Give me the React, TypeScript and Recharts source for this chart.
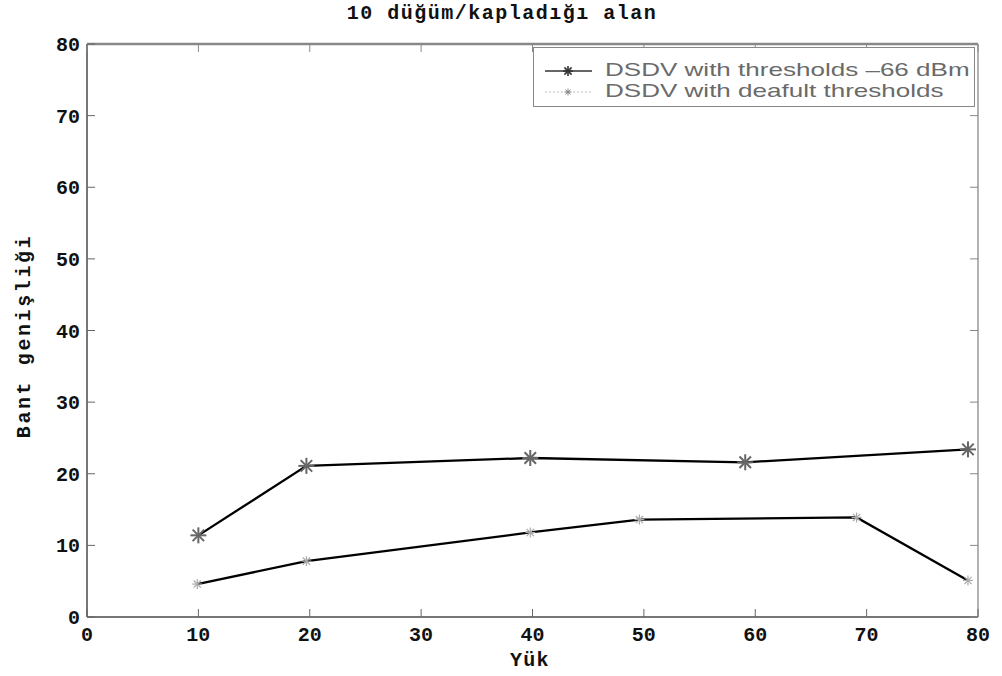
import React from 'react';
import { LineChart, Line, XAxis, YAxis, ReferenceLine } from 'recharts';

const xTicks = [0, 10, 20, 30, 40, 50, 60, 70, 80];
const yTicks = [0, 10, 20, 30, 40, 50, 60, 70, 80];

const thresholdX = [10, 19.7, 39.8, 59.1, 79.1];
const thresholdY = [11.4, 21.1, 22.2, 21.6, 23.4];
const defaultX = [9.9, 19.7, 39.8, 49.6, 69.1, 79.1];
const defaultY = [4.6, 7.8, 11.8, 13.6, 13.9, 5.1];

const seriesNames = ['DSDV with thresholds \u201366 dBm', 'DSDV with deafult thresholds'];

const thresholdData = thresholdX.map((x, i) => ({ x, y: thresholdY[i] }));
const defaultData = defaultX.map((x, i) => ({ x, y: defaultY[i] }));

const mono = '"Liberation Mono", "DejaVu Sans Mono", monospace';

const Star = ({ cx, cy, r, color, w }: any) => {
  if (cx == null || cy == null) return null;
  const d = r * 0.72;
  return (
    <g stroke={color} strokeWidth={w} fill="none">
      <line x1={cx - r} y1={cy} x2={cx + r} y2={cy} />
      <line x1={cx} y1={cy - r} x2={cx} y2={cy + r} />
      <line x1={cx - d} y1={cy - d} x2={cx + d} y2={cy + d} />
      <line x1={cx - d} y1={cy + d} x2={cx + d} y2={cy - d} />
    </g>
  );
};

const XTick = ({ x, y, payload }: any) => (
  <g>
    <line x1={x} y1={y} x2={x} y2={y - 8} stroke="#666" strokeWidth={1} />
    <line x1={x} y1={44} x2={x} y2={52} stroke="#888" strokeWidth={1} />
    <text x={x} y={y + 24} textAnchor="middle" fontFamily={mono} fontWeight="bold" fontSize={20} fill="#111">
      {payload.value}
    </text>
  </g>
);

const YTick = ({ x, y, payload }: any) => (
  <g>
    <line x1={x} y1={y} x2={x + 8} y2={y} stroke="#666" strokeWidth={1} />
    <line x1={970} y1={y} x2={978} y2={y} stroke="#888" strokeWidth={1} />
    <text x={x - 7} y={y + 7} textAnchor="end" fontFamily={mono} fontWeight="bold" fontSize={20} fill="#111">
      {payload.value}
    </text>
  </g>
);

const legendText: React.CSSProperties = {
  position: 'absolute',
  left: 71,
  lineHeight: '20px',
  whiteSpace: 'nowrap',
  transform: 'scaleX(1.37)',
  transformOrigin: 'left center',
};

const LegendBox = () => (
  <div
    style={{
      position: 'absolute',
      left: 533,
      top: 47,
      width: 442,
      height: 60,
      border: '1px solid #888',
      background: '#fff',
      fontFamily: '"Liberation Sans", Arial, sans-serif',
      fontSize: 19,
      color: '#6a6a6a',
      boxSizing: 'border-box',
    }}
  >
    <svg width={70} height={58} style={{ position: 'absolute', left: 0, top: 0 }}>
      <line x1={11} y1={23} x2={58} y2={23} stroke="#333" strokeWidth={1.5} />
      <Star cx={34} cy={23} r={5} color="#333" w={1.6} />
      <line x1={11} y1={44} x2={58} y2={44} stroke="#bbb" strokeWidth={1} strokeDasharray="2 2" />
      <Star cx={34} cy={44} r={3.5} color="#888" w={1} />
    </svg>
    <div style={{ ...legendText, top: 12 }}>{seriesNames[0]}</div>
    <div style={{ ...legendText, top: 33 }}>{seriesNames[1]}</div>
  </div>
);

export default function App() {
  return (
    <div style={{ position: 'absolute', left: 0, top: 0, width: 1002, height: 676, background: '#fff' }}>
      <div
        style={{
          position: 'absolute',
          left: 0,
          width: 1004,
          top: 2,
          textAlign: 'center',
          fontFamily: mono,
          fontWeight: 'bold',
          fontSize: 20,
          letterSpacing: 1.5,
          color: '#111',
        }}
      >
        10 düğüm/kapladığı alan
      </div>
      <LineChart width={1002} height={676} margin={{ top: 44, right: 24, bottom: 29, left: 0 }}>
        <XAxis
          type="number"
          dataKey="x"
          domain={[0, 80]}
          ticks={xTicks}
          allowDataOverflow
          height={30}
          tickLine={false}
          tickSize={0}
          tickMargin={0}
          axisLine={{ stroke: '#777', strokeWidth: 2 }}
          tick={<XTick />}
          interval={0}
        />
        <YAxis
          type="number"
          domain={[0, 80]}
          ticks={yTicks}
          width={87}
          tickLine={false}
          tickSize={0}
          tickMargin={0}
          axisLine={{ stroke: '#777', strokeWidth: 2 }}
          tick={<YTick />}
          interval={0}
        />
        <ReferenceLine y={80} stroke="#888" strokeWidth={2.5} />
        <ReferenceLine x={80} stroke="#999" strokeWidth={1.5} />
        <Line
          data={thresholdData}
          dataKey="y"
          name={seriesNames[0]}
          stroke="#000"
          strokeWidth={2.3}
          isAnimationActive={false}
          dot={(p: any) => <Star key={`a${p.index}`} cx={p.cx} cy={p.cy} r={8} color="#666" w={2} />}
          activeDot={false}
        />
        <Line
          data={defaultData}
          dataKey="y"
          name={seriesNames[1]}
          stroke="#000"
          strokeWidth={2.3}
          isAnimationActive={false}
          dot={(p: any) => <Star key={`b${p.index}`} cx={p.cx} cy={p.cy} r={5} color="#aaa" w={1.2} />}
          activeDot={false}
        />
      </LineChart>
      <LegendBox />
      <div
        style={{
          position: 'absolute',
          left: 510,
          top: 649,
          fontFamily: mono,
          fontWeight: 'bold',
          fontSize: 20,
          letterSpacing: 1.3,
          color: '#111',
        }}
      >
        Yük
      </div>
      <div
        style={{
          position: 'absolute',
          left: 24,
          top: 336,
          transform: 'translate(-50%, -50%) rotate(-90deg)',
          fontFamily: mono,
          fontWeight: 'bold',
          fontSize: 20,
          letterSpacing: 2.6,
          color: '#111',
          whiteSpace: 'nowrap',
        }}
      >
        Bant genişliği
      </div>
    </div>
  );
}
